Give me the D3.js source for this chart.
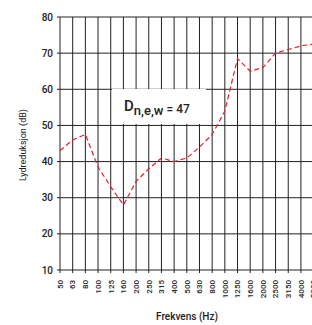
<!DOCTYPE html>
<meta charset="utf-8">
<head>
    <script src="https://d3js.org/d3.v7.min.js"></script>
    <style>
        body { margin: 0; background: #fff; }
        text { font-family: Roboto, "DejaVu Sans", sans-serif; fill: #222; }
    </style>
</head>
<body>
<div id="graph"></div>
<script>
    // data
    var freqs = ["50","63","80","100","125","160","200","250","315","400","500","630","800","1000","1250","1600","2000","2500","3150","4000","5000"];
    var reduction = [43, 46, 47.5, 38.5, 33, 28, 34.5, 38, 41, 40, 41, 44, 47.5, 54, 68.5, 65, 66, 70, 71, 72, 72.5];
    var yTicks = [10, 20, 30, 40, 50, 60, 70, 80];

    var width = 312, height = 325;
    var svg = d3.select("#graph").append("svg")
        .attr("width", width)
        .attr("height", height);

    var x = d3.scalePoint().domain(freqs).range([60, 313.6]);
    var y = d3.scaleLinear().domain([10, 80]).range([270, 17]);

    // vertical grid
    svg.append("g").selectAll("line")
        .data(freqs)
        .enter().append("line")
        .attr("x1", function(d) { return x(d); })
        .attr("x2", function(d) { return x(d); })
        .attr("y1", y(80))
        .attr("y2", y(10) + 3)
        .attr("stroke", "#222")
        .attr("stroke-width", 1);

    // horizontal grid
    svg.append("g").selectAll("line")
        .data(yTicks)
        .enter().append("line")
        .attr("x1", x("50") - 3)
        .attr("x2", x("5000"))
        .attr("y1", function(d) { return y(d); })
        .attr("y2", function(d) { return y(d); })
        .attr("stroke", "#222")
        .attr("stroke-width", 1);

    // y tick labels
    svg.append("g").selectAll("text")
        .data(yTicks)
        .enter().append("text")
        .attr("x", 53)
        .attr("y", function(d) { return y(d); })
        .attr("dy", "0.35em")
        .attr("text-anchor", "end")
        .style("font-size", "10px")
        .style("font-weight", "500")
        .text(function(d) { return d; });

    // x tick labels (rotated)
    svg.append("g").selectAll("text")
        .data(freqs)
        .enter().append("text")
        .attr("transform", function(d) { return "translate(" + x(d) + ",280) rotate(-90)"; })
        .attr("dy", "0.35em")
        .attr("text-anchor", "end")
        .style("font-size", "8px")
        .style("font-weight", "500")
        .text(function(d) { return d; });

    // axis titles
    svg.append("text")
        .attr("transform", "translate(23,145) rotate(-90)")
        .attr("dy", "0.35em")
        .attr("text-anchor", "middle")
        .style("font-size", "9px")
        .text("Lydreduksjon (dB)");

    svg.append("text")
        .attr("x", 187)
        .attr("y", 320)
        .attr("text-anchor", "middle")
        .style("font-size", "10px")
        .style("font-weight", "500")
        .text("Frekvens (Hz)");

    // label box
    svg.append("rect")
        .attr("x", 112).attr("y", 89)
        .attr("width", 94).attr("height", 35)
        .attr("fill", "#fff");

    var lbl = svg.append("text")
        .attr("x", 124)
        .attr("y", 111)
        .style("font-weight", "500");
    lbl.append("tspan").style("font-size", "15px").text("D");
    lbl.append("tspan").style("font-size", "13px").attr("dy", 4).text("n,e,w");
    lbl.append("tspan").style("font-size", "12px").attr("dy", -2).text(" = 47");

    // red dashed curve
    var line = d3.line()
        .x(function(d, i) { return x(freqs[i]); })
        .y(function(d) { return y(d); });

    svg.append("path")
        .datum(reduction)
        .attr("d", line)
        .attr("fill", "none")
        .attr("stroke", "#e8202a")
        .attr("stroke-width", 1.2)
        .attr("stroke-dasharray", "5,3");
</script>
</body>
